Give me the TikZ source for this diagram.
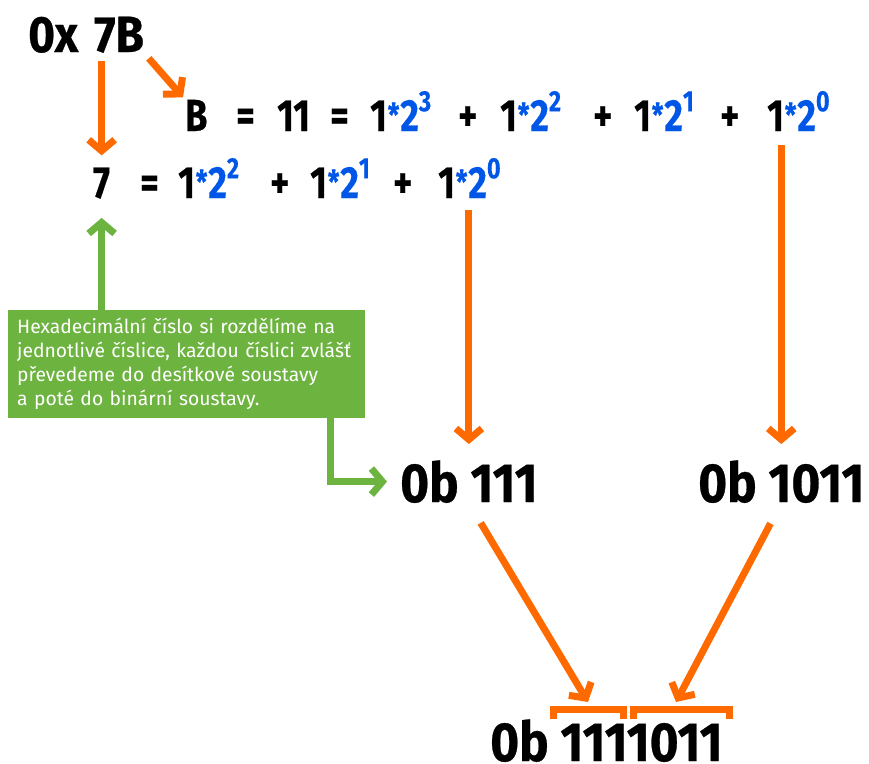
\documentclass[tikz,border=0pt]{standalone}
\usepackage{fontspec}
\usetikzlibrary{arrows.meta}
\setmainfont{Fira Sans}
\newfontfamily\dinf[FakeStretch=0.8, FakeBold=0.4]{Fira Sans}
\newfontfamily\dinw[FakeStretch=0.9, FakeBold=0.5]{Fira Sans}
\newfontfamily\boxf{Fira Sans}
\definecolor{corange}{RGB}{255,106,0}
\definecolor{cgreen}{RGB}{109,179,63}
\definecolor{cblue}{RGB}{0,87,231}
\newcommand{\pw}[1]{1\textcolor{cblue}{\hspace{0.02em}\raisebox{0.1em}{\scalebox{0.72}{*}}\hspace{0.02em}2\raisebox{0.44em}{\scalebox{0.65}{#1}}}}
\begin{document}
\begin{tikzpicture}[x=1pt,y=-1pt,
  lbl/.style={inner sep=0pt, anchor=base west, font=\dinf\bfseries\fontsize{45}{45}\selectfont},
  big/.style={inner sep=0pt, anchor=base west, font=\dinw\bfseries\fontsize{55}{55}\selectfont},
  hexs/.style={inner sep=0pt, anchor=base west, font=\dinw\bfseries\fontsize{51}{51}\selectfont},
  oarr/.style={draw=corange, line width=7pt, -{Straight Barb[length=11pt,width=26pt]}},
  garr/.style={draw=cgreen, line width=7pt, -{Straight Barb[length=11pt,width=26pt]}},
  brk/.style={draw=corange, line width=7pt}]
\useasboundingbox (0,0) rectangle (869,763);

\node[hexs] (hex) at (28,52) {0x\hspace{0.1em} 7B};

% row 1
\node[lbl] (bee) at (185,131) {B};
\node[lbl] (e11) at (236,131) {=};
\node[lbl] (eleven) at (277,131) {11};
\node[lbl] (e12) at (330,131) {=};
\node[lbl] (t13) at (370,131) {\pw{3}};
\node[lbl] (p11) at (458,131) {+};
\node[lbl] (t12) at (500,131) {\pw{2}};
\node[lbl] (p12) at (593,131) {+};
\node[lbl] (t11) at (634,131) {\pw{1}};
\node[lbl] (p13) at (720,131) {+};
\node[lbl] (t10) at (767,131) {\pw{0}};

% row 2
\node[lbl] (seven) at (93,198) {7};
\node[lbl] (e21) at (140,198) {=};
\node[lbl] (t22) at (178,198) {\pw{2}};
\node[lbl] (p21) at (270,198) {+};
\node[lbl] (t21) at (310,198) {\pw{1}};
\node[lbl] (p22) at (393,198) {+};
\node[lbl] (t20) at (438,198) {\pw{0}};

% binary results
\node[big] (ob1) at (400,502) {0b 111};
\node[big] (ob2) at (698,502) {0b 1011};
\node[big] (res) at (490,761) {0b 1111011};

% green box
\node[fill=cgreen, anchor=north west, minimum width=357pt, minimum height=108pt,
  text width=339pt, inner xsep=9pt, inner ysep=0pt, align=left, text=white,
  font=\boxf\fontsize{19.3}{24}\selectfont] (box) at (8,310)
  {Hexadecimální číslo si rozdělíme na\\ jednotlivé číslice, každou číslici zvlášť\\ převedeme do desítkové soustavy\\ a poté do binární soustavy.};

% brackets
\coordinate (br1) at (588,702);
\coordinate (br2) at (676,702);
\draw[brk] (553,719) -- (553,709) -- (623,709) -- (623,719);
\draw[brk] (633,719) -- (633,709) -- (729,709) -- (729,719);

% orange arrows
\draw[oarr, shorten <=8pt, shorten >=12pt] (hex.south -| seven) -- (seven.north);
\draw[oarr, shorten <=7pt, shorten >=3pt] (hex.south east) -- (bee.north west);
\draw[oarr, shorten <=12pt, shorten >=16pt] (t20.south -| ob1.north) -- (ob1.north);
\draw[oarr, shorten <=14pt, shorten >=16pt] (t10.south -| ob2.north) -- (ob2.north);
\draw[oarr, shorten <=23pt] (ob1.south) -- (br1);
\draw[oarr, shorten <=23pt] (ob2.south) -- (br2);

% green arrows
\draw[garr, shorten >=19pt] (box.north -| seven) -- (seven.south);
\draw[garr, shorten >=13pt] ([xshift=-35pt]box.south east) |- (ob1.west);
\end{tikzpicture}
\end{document}
